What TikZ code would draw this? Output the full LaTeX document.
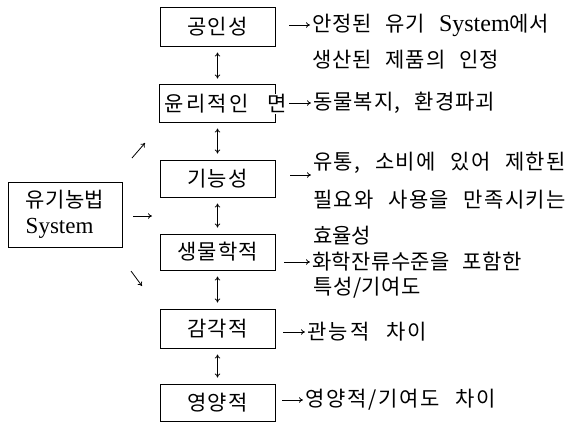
\documentclass[tikz,border=0pt]{standalone}
\usepackage{fontspec}
\setmainfont{Liberation Serif}
\newfontfamily\kr[WordSpace=2.5]{Noto Sans CJK KR}
\newcommand\lspc[1]{\addfontfeature{LetterSpace=#1}}
\newcommand\krt[2]{\kr\fontsize{#1}{#1}\selectfont\lspc{#2}}
\usetikzlibrary{arrows.meta}
\begin{document}
\begin{tikzpicture}[x=1pt,y=-1pt,
  boxline/.style={line width=1pt, line join=miter},
  box/.style={draw, boxline, minimum width=115pt, inner sep=0pt, font=\krt{21}{5}},
  txt/.style={anchor=west, inner sep=0pt, font=\krt{21}{5}},
  arr/.style={-{To[length=4pt,width=5.5pt]}, line width=0.8pt, shorten >=2pt},
  dbl/.style={{To[length=4pt,width=5.5pt]}-{To[length=4pt,width=5.5pt]}, line width=0.8pt, shorten >=6pt, shorten <=6pt},
  sarr/.style={-{To[length=4pt,width=5.5pt]}, line width=0.8pt}]
\useasboundingbox (0,0) rectangle (573,424);

% central column
\node[box, minimum height=39pt] (A) at (217.5,26.5) {공인성};
\node[box, draw=none, minimum height=37pt] (B) at (217.5,103.5) {};
\node[txt, font=\krt{21}{12}] (Bt) at (164,104) {윤리적인 면};
\draw[boxline] (B.east |- Bt.north) -- (B.north east) -- (B.north west) -- (B.south west) -- (B.south east) -- (B.east |- Bt.south);
\node[box, minimum height=37pt] (C) at (217.5,178.5) {기능성};
\node[box, minimum height=36pt] (D) at (217.5,252) {생물학적};
\node[box, minimum height=39pt] (E) at (217.5,328.5) {감각적};
\node[box, minimum height=37pt] (F) at (217.5,402.5) {영양적};

\draw[dbl] (A.south) -- (B.north);
\draw[dbl] (B.south) -- (C.north);
\draw[dbl] (C.south) -- (D.north);
\draw[dbl] (D.south) -- (E.north);
\draw[dbl] (E.south) -- (F.north);

% system box
\node[box, minimum width=114pt, minimum height=65pt, align=left, font=\fontsize{21}{26}\selectfont] (S) at (65,214.5)
  {{\krt{21}{2}유기농법}\\{\fontsize{23}{26}\selectfont System}};
\coordinate (s1a) at (132,158); \coordinate (s1b) at (145,143);
\coordinate (s2a) at (133,216); \coordinate (s2b) at (152,216);
\coordinate (s3a) at (131,271); \coordinate (s3b) at (142,286);
\draw[sarr] (s1a) -- (s1b);
\draw[sarr] (s2a) -- (s2b);
\draw[sarr] (s3a) -- (s3b);

% right texts
\node[txt, font=\krt{21}{4}] (L1) at (312,25) {안정된 유기 {\fontspec{Liberation Serif}\fontsize{24}{24}\selectfont System}에서};
\node[txt, font=\krt{21}{4}] (L2) at (312,60) {생산된 제품의 인정};
\node[txt, font=\krt{21}{5}] (L3) at (313,103) {동물복지, 환경파괴};
\node[txt, font=\krt{21}{6}] (L4) at (313,163) {유통, 소비에 있어 제한된};
\node[txt, font=\krt{21}{6}] (L5) at (313,200) {필요와 사용을 만족시키는};
\node[txt, font=\krt{21}{0}] (L6) at (313,236) {효율성};
\node[txt, font=\krt{21}{2}] (L7) at (312,262) {화학잔류수준을 포함한};
\node[txt, font=\krt{21}{3}] (L8) at (313,288) {특성/기여도};
\node[txt, font=\krt{21}{10}] (L9) at (307,332) {관능적 차이};
\node[txt, font=\krt{21}{8}] (L10) at (305,400) {영양적/기여도 차이};

\coordinate (cA) at (289,25);
\coordinate (cB) at (289,103);
\coordinate (cC) at (290,175);
\coordinate (cD) at (284,262);
\coordinate (cE) at (283,332);
\coordinate (cF) at (282,400);
\draw[arr] (cA) -- (cA -| L1.west);
\draw[arr] (cB) -- (cB -| L3.west);
\draw[arr] (cC) -- (cC -| L4.west);
\draw[arr] (cD) -- (cD -| L7.west);
\draw[arr] (cE) -- (cE -| L9.west);
\draw[arr] (cF) -- (cF -| L10.west);
\end{tikzpicture}
\end{document}
